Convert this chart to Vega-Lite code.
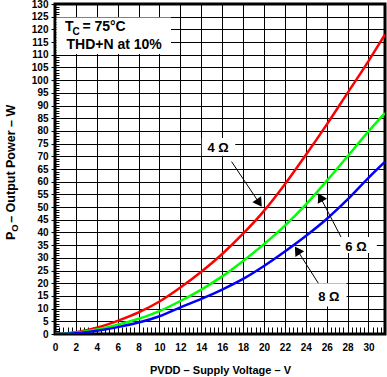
{
  "$schema": "https://vega.github.io/schema/vega-lite/v6.json",
  "width": 330,
  "height": 330,
  "autosize": "none",
  "padding": {"left": 55, "top": 4, "right": 2, "bottom": 43},
  "config": {
    "font": "Liberation Sans",
    "view": {"stroke": "#000", "strokeWidth": 3},
    "axis": {
      "labelFont": "Liberation Sans",
      "labelFontWeight": "bold",
      "labelFontSize": 10,
      "labelColor": "#000",
      "domain": false,
      "gridColor": "#000",
      "gridOpacity": 1,
      "gridWidth": 1,
      "tickColor": "#000",
      "titleColor": "#000"
    }
  },
  "resolve": {"axis": {"x": "independent", "y": "independent"}},
  "layer": [
    {
      "data": {"values": [
        {"x1": 0.15, "x2": 11.1, "y1": 110.3, "y2": 124.7},
        {"x1": 14.05, "x2": 17.25, "y1": 70.2, "y2": 77.2},
        {"x1": 27.3, "x2": 30.8, "y1": 31.9, "y2": 38.2},
        {"x1": 24.3, "x2": 27.9, "y1": 10.8, "y2": 20.0}
      ]},
      "mark": {"type": "rect", "fill": "#fff", "stroke": null},
      "encoding": {
        "x": {"field": "x1", "type": "quantitative",
          "scale": {"domain": [0, 31.58], "nice": false, "zero": false},
          "axis": {"orient": "bottom", "values": [0,2,4,6,8,10,12,14,16,18,20,22,24,26,28,30],
            "grid": true, "tickSize": 0, "labelPadding": 8, "labelFlush": false,
            "title": "PVDD – Supply Voltage – V",
            "titleFont": "Liberation Sans", "titleFontSize": 11, "titleFontWeight": "bold",
            "titlePadding": 12}},
        "x2": {"field": "x2"},
        "y": {"field": "y1", "type": "quantitative",
          "scale": {"domain": [0, 130], "nice": false},
          "axis": {"orient": "left", "values": [0,5,10,15,20,25,30,35,40,45,50,55,60,65,70,75,80,85,90,95,100,105,110,115,120,125,130],
            "grid": true, "tickSize": 4, "labelPadding": 3, "labelFlush": false, "title": null}},
        "y2": {"field": "y2"}
      }
    },
    {
      "data": {"values": [
        {"V": 0, "P": 0, "R": "4"}, {"V": 2, "P": 0.7, "R": "4"}, {"V": 4, "P": 2.5, "R": "4"}, {"V": 6, "P": 5.2, "R": "4"},
        {"V": 8, "P": 8.5, "R": "4"}, {"V": 10, "P": 12.8, "R": "4"}, {"V": 12, "P": 18.3, "R": "4"}, {"V": 14, "P": 24.5, "R": "4"},
        {"V": 16, "P": 31.5, "R": "4"}, {"V": 18, "P": 39.5, "R": "4"}, {"V": 20, "P": 48.5, "R": "4"}, {"V": 22, "P": 59, "R": "4"},
        {"V": 24, "P": 70.5, "R": "4"}, {"V": 26, "P": 82.5, "R": "4"}, {"V": 28, "P": 95, "R": "4"}, {"V": 30, "P": 107.5, "R": "4"},
        {"V": 31.58, "P": 118, "R": "4"},
        {"V": 0, "P": 0, "R": "6"}, {"V": 2, "P": 0.5, "R": "6"}, {"V": 4, "P": 1.8, "R": "6"}, {"V": 6, "P": 3.7, "R": "6"},
        {"V": 8, "P": 6, "R": "6"}, {"V": 10, "P": 9, "R": "6"}, {"V": 12, "P": 13, "R": "6"}, {"V": 14, "P": 17.5, "R": "6"},
        {"V": 16, "P": 22.7, "R": "6"}, {"V": 18, "P": 28.8, "R": "6"}, {"V": 20, "P": 35.4, "R": "6"}, {"V": 22, "P": 42.7, "R": "6"},
        {"V": 24, "P": 51, "R": "6"}, {"V": 26, "P": 60.3, "R": "6"}, {"V": 28, "P": 70, "R": "6"}, {"V": 30, "P": 79.8, "R": "6"},
        {"V": 31.58, "P": 87, "R": "6"},
        {"V": 0, "P": 0, "R": "8"}, {"V": 2, "P": 0.3, "R": "8"}, {"V": 4, "P": 1.3, "R": "8"}, {"V": 6, "P": 2.7, "R": "8"},
        {"V": 8, "P": 4.5, "R": "8"}, {"V": 10, "P": 7, "R": "8"}, {"V": 12, "P": 10.5, "R": "8"}, {"V": 14, "P": 13.8, "R": "8"},
        {"V": 16, "P": 17.5, "R": "8"}, {"V": 18, "P": 21.7, "R": "8"}, {"V": 20, "P": 26.8, "R": "8"}, {"V": 22, "P": 32.5, "R": "8"},
        {"V": 24, "P": 38.6, "R": "8"}, {"V": 26, "P": 45.3, "R": "8"}, {"V": 28, "P": 53, "R": "8"}, {"V": 30, "P": 61.5, "R": "8"},
        {"V": 31.58, "P": 67.8, "R": "8"}
      ]},
      "mark": {"type": "line", "strokeWidth": 2.5, "interpolate": "monotone", "clip": true},
      "encoding": {
        "x": {"field": "V", "type": "quantitative",
          "axis": {"orient": "bottom", "offset": -7, "tickSize": 7, "labels": false, "grid": false, "title": null,
            "values": [0.4,0.8,1.2,1.6,2.4,2.8,3.2,3.6,4.4,4.8,5.2,5.6,6.4,6.8,7.2,7.6,8.4,8.8,9.2,9.6,10.4,10.8,11.2,11.6,12.4,12.8,13.2,13.6,14.4,14.8,15.2,15.6,16.4,16.8,17.2,17.6,18.4,18.8,19.2,19.6,20.4,20.8,21.2,21.6,22.4,22.8,23.2,23.6,24.4,24.8,25.2,25.6,26.4,26.8,27.2,27.6,28.4,28.8,29.2,29.6,30.4,30.8,31.2]}},
        "y": {"field": "P", "type": "quantitative",
          "axis": {"orient": "left", "offset": -4, "tickSize": 4, "labels": false, "grid": false, "title": null,
            "values": [1,2,3,4,6,7,8,9,11,12,13,14,16,17,18,19,21,22,23,24,26,27,28,29,31,32,33,34,36,37,38,39,41,42,43,44,46,47,48,49,51,52,53,54,56,57,58,59,61,62,63,64,66,67,68,69,71,72,73,74,76,77,78,79,81,82,83,84,86,87,88,89,91,92,93,94,96,97,98,99,101,102,103,104,106,107,108,109,111,112,113,114,116,117,118,119,121,122,123,124,126,127,128,129]}},
        "color": {"field": "R", "type": "nominal", "legend": null,
          "scale": {"domain": ["4", "6", "8"], "range": ["#ff0000", "#00ff00", "#0000ff"]}}
      }
    },
    {
      "data": {"values": [
        {"x1": 16.9, "y1": 67.9, "x2": 19.55, "y2": 51.6},
        {"x1": 27.37, "y1": 38.2, "x2": 25.39, "y2": 53.9},
        {"x1": 25.2, "y1": 20.0, "x2": 23.19, "y2": 33.0}
      ]},
      "mark": {"type": "rule", "color": "#000", "strokeWidth": 1},
      "encoding": {
        "x": {"field": "x1", "type": "quantitative", "axis": null},
        "y": {"field": "y1", "type": "quantitative", "axis": null},
        "x2": {"field": "x2"},
        "y2": {"field": "y2"}
      }
    },
    {
      "data": {"values": [{"V": 19.55, "P": 51.6}]},
      "mark": {"type": "point", "shape": "triangle-up", "filled": true, "color": "#000", "opacity": 1, "size": 110, "angle": 146},
      "encoding": {"x": {"field": "V", "type": "quantitative", "axis": null}, "y": {"field": "P", "type": "quantitative", "axis": null}}
    },
    {
      "data": {"values": [{"V": 25.39, "P": 53.9}]},
      "mark": {"type": "point", "shape": "triangle-up", "filled": true, "color": "#000", "opacity": 1, "size": 110, "angle": 332},
      "encoding": {"x": {"field": "V", "type": "quantitative", "axis": null}, "y": {"field": "P", "type": "quantitative", "axis": null}}
    },
    {
      "data": {"values": [{"V": 23.19, "P": 33.0}]},
      "mark": {"type": "point", "shape": "triangle-up", "filled": true, "color": "#000", "opacity": 1, "size": 110, "angle": 327},
      "encoding": {"x": {"field": "V", "type": "quantitative", "axis": null}, "y": {"field": "P", "type": "quantitative", "axis": null}}
    },
    {
      "data": {"values": [
        {"V": 15.6, "P": 73.3, "t": "4 Ω"},
        {"V": 28.8, "P": 34.3, "t": "6 Ω"},
        {"V": 26.2, "P": 14.5, "t": "8 Ω"}
      ]},
      "mark": {"type": "text", "font": "Liberation Sans", "fontWeight": "bold", "fontSize": 13, "align": "center", "baseline": "middle", "color": "#000"},
      "encoding": {"x": {"field": "V", "type": "quantitative", "axis": null}, "y": {"field": "P", "type": "quantitative", "axis": null}, "text": {"field": "t"}}
    },
    {
      "data": {"values": [
        {"V": 0.957, "P": 119.4, "t": "T"},
        {"V": 2.62, "P": 119.4, "t": "= 75°C"},
        {"V": 1.1, "P": 112.2, "t": "THD+N at 10%"}
      ]},
      "mark": {"type": "text", "font": "Liberation Sans", "fontWeight": "bold", "fontSize": 14, "align": "left", "baseline": "alphabetic", "color": "#000"},
      "encoding": {"x": {"field": "V", "type": "quantitative", "axis": null}, "y": {"field": "P", "type": "quantitative", "axis": null}, "text": {"field": "t"}}
    },
    {
      "data": {"values": [{"V": 1.67, "P": 117.8, "t": "C"}]},
      "mark": {"type": "text", "font": "Liberation Sans", "fontWeight": "bold", "fontSize": 10, "align": "left", "baseline": "alphabetic", "color": "#000"},
      "encoding": {"x": {"field": "V", "type": "quantitative", "axis": null}, "y": {"field": "P", "type": "quantitative", "axis": null}, "text": {"field": "t"}}
    },
    {
      "data": {"values": [
        {"V": -3.85, "P": 37.0, "t": "P"},
        {"V": -3.85, "P": 43.8, "t": " – Output Power – W"}
      ]},
      "mark": {"type": "text", "font": "Liberation Sans", "fontWeight": "bold", "fontSize": 12.5, "align": "left", "baseline": "alphabetic", "angle": 270, "color": "#000"},
      "encoding": {"x": {"field": "V", "type": "quantitative", "axis": null}, "y": {"field": "P", "type": "quantitative", "axis": null}, "text": {"field": "t"}}
    },
    {
      "data": {"values": [{"V": -3.85, "P": 40.3, "t": "O"}]},
      "mark": {"type": "text", "font": "Liberation Sans", "fontWeight": "bold", "fontSize": 9.5, "align": "left", "baseline": "alphabetic", "angle": 270, "dy": 3, "color": "#000"},
      "encoding": {"x": {"field": "V", "type": "quantitative", "axis": null}, "y": {"field": "P", "type": "quantitative", "axis": null}, "text": {"field": "t"}}
    }
  ]
}
